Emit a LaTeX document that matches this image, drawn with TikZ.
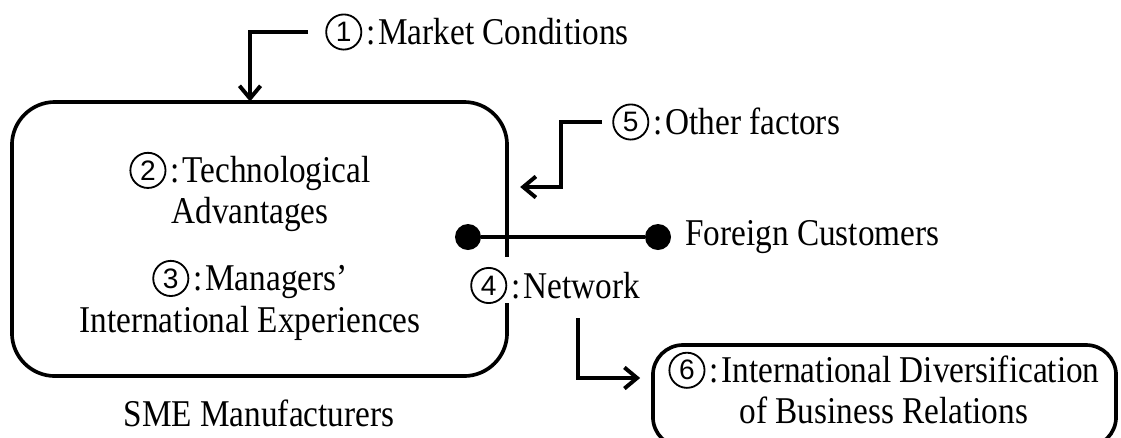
\documentclass[tikz,border=0pt]{standalone}
\usepackage{fontspec}
\setmainfont[FakeStretch=0.88]{Liberation Serif}
\newfontfamily\digfont{Liberation Sans}
\usetikzlibrary{positioning,arrows.meta}
\newcommand{\cnum}[1]{\tikz[baseline={([yshift=-8.9pt]c.center)}]
  \node[circle, draw, line width=1.3pt, inner sep=0pt, minimum size=25pt,
        font=\digfont\fontsize{20}{20}\selectfont] (c) {#1};\hspace{0.12em}:\hspace{0.06em}}
\tikzset{
  txt/.style={font=\fontsize{26.9}{29.2}\selectfont, inner sep=0pt},
  arr/.style={line width=2.8pt, -{Straight Barb[length=9pt,width=15pt]}},
  conn/.style={line width=2.8pt},
  dot/.style={circle, fill, inner sep=0pt, minimum size=0.65cm},
}

\begin{document}
\begin{tikzpicture}[x=0.025cm, y=-0.025cm, align=center]
    \useasboundingbox (0,0) rectangle (1121,437);
    \clip (0,0) rectangle (1121,437);
    \node[draw, line width=2.6pt, rounded corners=1.075cm, minimum width=12.375cm, minimum height=6.85cm] at (259.5,239) (sme) {};
    \node[draw, line width=2.6pt, rounded corners=0.75cm, minimum width=11.575cm, minimum height=2.55cm] at (884.5,396) (div) {};
    \node[txt] at (259,413) (smel) {SME Manufacturers};
    \node[txt] at (250,192) (tech) {\cnum{2}Technological\\Advantages};
    \node[txt] at (250,300) (mgr) {\cnum{3}Managers’\\International Experiences};
    \node[txt, anchor=west] at (325,32) (mc) {\cnum{1}Market Conditions};
    \node[txt, anchor=west] at (612,122) (oth) {\cnum{5}Other factors};
    \node[txt, anchor=west] at (685,237) (fc) {Foreign Customers};
    \node[txt, anchor=base west, fill=white, text height=29.2pt, text depth=3.6pt] at (470,298) (net) {\cnum{4}Network};
    \node[txt] at (884,388) (divl) {\cnum{6}International Diversification\\of Business Relations};
    \node[dot] at (468,237) (d1) {};
    \node[dot] at (658,237) (d2) {};

    \draw[conn]     (d1) -- (d2);
    \draw[arr]      ([xshift=-12]mc.west) -| ([yshift=-1]sme.north -| 250,0);
    \draw[arr]      ([xshift=-7]oth.west) -| ++(-41,65) -- ++(-41,0);
    \draw[arr]      ([shift={(23,15)}]net.south) |- ([shift={(-11,-18)}]div.west);
\end{tikzpicture}
\end{document}
